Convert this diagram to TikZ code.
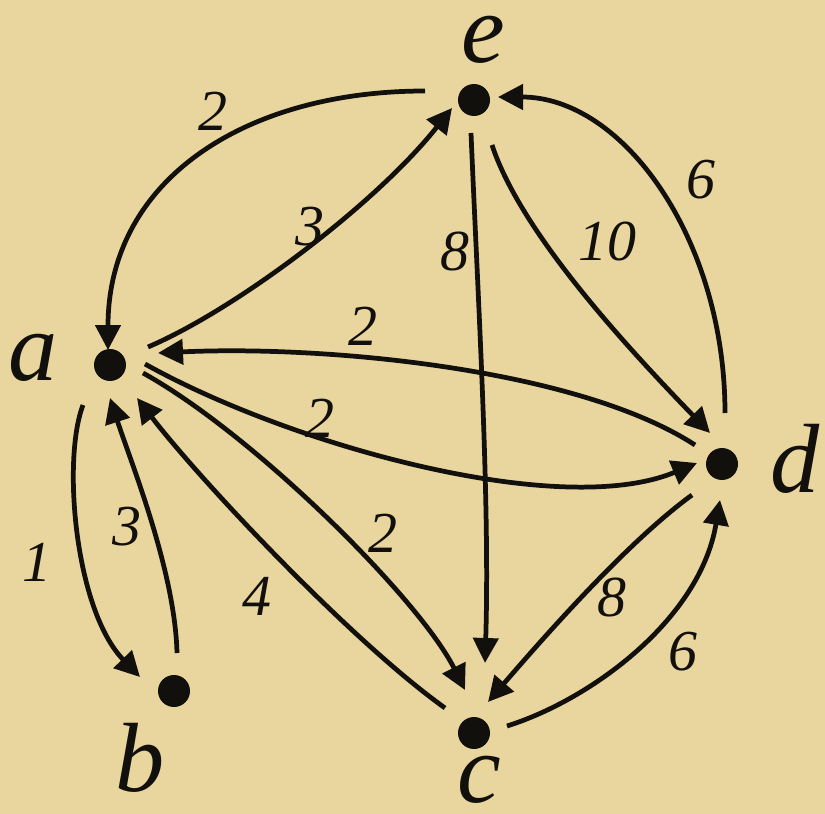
\documentclass[tikz,border=0pt]{standalone}
\usepackage{fontspec}
\setmainfont{Liberation Serif}[ItalicFont={Liberation Serif Italic}]
\usetikzlibrary{arrows.meta}
\definecolor{parch}{RGB}{233,213,158}
\definecolor{ink}{RGB}{18,16,12}
\tikzset{
  dot/.style={circle,fill=ink,inner sep=0pt,minimum size=0.64cm},
  vname/.style={font=\fontsize{56}{60}\selectfont\itshape,text=ink,inner sep=0pt},
  wlabel/.style={font=\fontsize{33}{36}\selectfont\itshape,text=ink,inner sep=0pt},
  edge/.style={draw=ink,line width=2.7pt,-{Triangle[length=0.5cm,width=0.5cm]}}
}
\begin{document}
\begin{tikzpicture}[x=0.02cm,y=-0.02cm]
\fill[parch] (0,0) rectangle (825,814);
\useasboundingbox (0,0) rectangle (825,814);
% vertices
\node[dot] (e) at (474,100) {};
\node[dot] (a) at (110,365) {};
\node[dot] (d) at (722,464) {};
\node[dot] (b) at (174,691) {};
\node[dot] (c) at (474,733) {};
% vertex names
\node[vname] (le) at (483,40) {e};
\node[vname] (la) at (33,358) {a};
\node[vname] (ld) at (795,459) {d};
\node[vname] (lc) at (479,780) {c};
\node[vname] (lb) at (140,758) {b};
% edges
\draw[edge] ([shift={(-49,-9)}]e.center) .. controls (245,91) and (108,180) .. ([shift={(-2,-15)}]a.center);
\draw[edge] ([shift={(38,-18)}]a.center) .. controls (235,310) and (375,205) .. ([shift={(-22,8)}]e.center);
\draw[edge] ([shift={(3,-51)}]d.center) .. controls (725,239) and (623,97) .. ([shift={(24,-3)}]e.center);
\draw[edge] ([shift={(-3,33)}]e.center) .. controls (478,300) and (490,500) .. ([shift={(11,-70)}]c.center);
\draw[edge] ([shift={(18,45)}]e.center) .. controls (520,230) and (620,340) .. ([shift={(-12,-31)}]d.center);
\draw[edge] ([shift={(-27,-19)}]d.center) .. controls (580,370) and (330,345) .. ([shift={(48,-12)}]a.center);
\draw[edge] ([shift={(35,-1)}]a.center) .. controls (290,445) and (560,520) .. ([shift={(-25,-1)}]d.center);
\draw[edge] ([shift={(33,8)}]a.center) .. controls (255,435) and (420,600) .. ([shift={(-9,-43)}]c.center);
\draw[edge] ([shift={(-29,-25)}]c.center) .. controls (350,640) and (200,480) .. ([shift={(27,33)}]a.center);
\draw[edge] ([shift={(-27,40)}]a.center) .. controls (62,460) and (75,610) .. ([shift={(-34,-14)}]b.center);
\draw[edge] ([shift={(3,-38)}]b.center) .. controls (175,570) and (130,460) .. ([shift={(0,33)}]a.center);
\draw[edge] ([shift={(-30,31)}]d.center) .. controls (630,540) and (550,630) .. ([shift={(14,-31)}]c.center);
\draw[edge] ([shift={(33,-7)}]c.center) .. controls (590,700) and (700,620) .. ([shift={(-2,36)}]d.center);
% weights
\node[wlabel] (w1) at (213,111) {2};
\node[wlabel] (w2) at (310,227) {3};
\node[wlabel] (w3) at (701,180) {6};
\node[wlabel] (w4) at (455,252) {8};
\node[wlabel] (w5) at (607,242) {10};
\node[wlabel] (w6) at (363,326) {2};
\node[wlabel] (w7) at (320,418) {2};
\node[wlabel] (w8) at (383,533) {2};
\node[wlabel] (w9) at (257,596) {4};
\node[wlabel] (w10) at (127,527) {3};
\node[wlabel] (w11) at (37,562) {1};
\node[wlabel] (w12) at (612,598) {8};
\node[wlabel] (w13) at (683,652) {6};
\end{tikzpicture}
\end{document}
